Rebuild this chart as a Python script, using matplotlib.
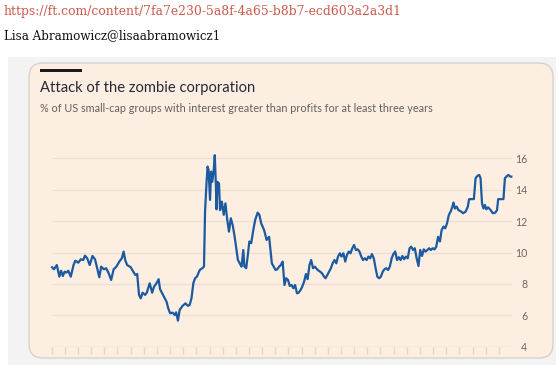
import matplotlib
matplotlib.use("Agg")
import matplotlib.pyplot as plt
from matplotlib.patches import FancyBboxPatch, Rectangle
from matplotlib.transforms import IdentityTransform
from matplotlib.ticker import FixedLocator

# ---- data (decimal year, % of US small caps that are "zombies") ----
years = [1986.03, 1986.17, 1986.39, 1986.58, 1986.71, 1986.85, 1986.98, 1987.12, 1987.26, 1987.45,
         1987.66, 1987.80, 1988.02, 1988.21, 1988.40, 1988.53, 1988.70, 1988.89, 1989.10, 1989.29,
         1989.43, 1989.62, 1989.76, 1989.97, 1990.14, 1990.33, 1990.52, 1990.71, 1990.92, 1991.14,
         1991.33, 1991.47, 1991.60, 1991.74, 1992.01, 1992.20, 1992.36, 1992.50, 1992.64, 1992.77,
         1992.91, 1993.10, 1993.23, 1993.45, 1993.64, 1993.78, 1993.97, 1994.13, 1994.24, 1994.46,
         1994.73, 1994.86, 1995.00, 1995.19, 1995.35, 1995.46, 1995.60, 1995.73, 1995.95, 1996.17,
         1996.36, 1996.49, 1996.63, 1996.77, 1996.90, 1997.04, 1997.26, 1997.45, 1997.58, 1997.66,
         1997.77, 1997.85, 1997.93, 1998.04, 1998.12, 1998.21, 1998.32, 1998.40, 1998.48, 1998.53,
         1998.61, 1998.72, 1998.80, 1998.94, 1999.08, 1999.21, 1999.35, 1999.48, 1999.62, 1999.76,
         1999.89, 2000.03, 2000.16, 2000.30, 2000.43, 2000.57, 2000.65, 2000.79, 2000.90, 2001.03,
         2001.17, 2001.33, 2001.47, 2001.66, 2001.79, 2001.93, 2002.15, 2002.34, 2002.53, 2002.61,
         2002.74, 2002.88, 2003.02, 2003.15, 2003.29, 2003.42, 2003.56, 2003.70, 2003.83, 2003.97,
         2004.10, 2004.24, 2004.38, 2004.51, 2004.65, 2004.78, 2004.92, 2005.05, 2005.19, 2005.33,
         2005.46, 2005.60, 2005.73, 2005.87, 2006.01, 2006.22, 2006.41, 2006.55, 2006.68, 2006.82,
         2006.96, 2007.09, 2007.23, 2007.36, 2007.50, 2007.64, 2007.77, 2007.91, 2008.04, 2008.18,
         2008.32, 2008.45, 2008.59, 2008.72, 2008.86, 2008.99, 2009.13, 2009.27, 2009.40, 2009.54,
         2009.67, 2009.81, 2009.95, 2010.08, 2010.22, 2010.35, 2010.49, 2010.63, 2010.76, 2010.90,
         2011.03, 2011.17, 2011.30, 2011.44, 2011.58, 2011.71, 2011.85, 2011.98, 2012.12, 2012.26,
         2012.39, 2012.53, 2012.66, 2012.80, 2012.93, 2013.07, 2013.21, 2013.34, 2013.48, 2013.61,
         2013.75, 2013.89, 2014.02, 2014.16, 2014.29, 2014.43, 2014.57, 2014.70, 2014.84, 2014.97,
         2015.11, 2015.24, 2015.38, 2015.52, 2015.65, 2015.79, 2015.92, 2016.06, 2016.20, 2016.33,
         2016.47, 2016.55, 2016.66, 2016.79, 2016.93, 2017.15, 2017.28, 2017.47, 2017.64, 2017.74,
         2017.91, 2018.10, 2018.23, 2018.37, 2018.51, 2018.61, 2018.72, 2018.83, 2018.94, 2019.05,
         2019.18, 2019.38, 2019.54, 2019.73, 2019.86, 2019.95, 2020.14, 2020.35, 2020.46, 2020.63,
         2020.73, 2020.87, 2020.95]
zombie_pct = [9.06, 8.93, 9.20, 8.46, 8.84, 8.50, 8.78, 8.72, 8.84, 8.46,
              9.20, 9.48, 9.35, 9.57, 9.52, 9.80, 9.63, 9.20, 9.78, 9.57,
              9.10, 8.42, 9.10, 8.93, 9.00, 8.68, 8.25, 8.93, 9.10, 9.42,
              9.63, 10.06, 9.48, 9.20, 9.06, 8.78, 8.57, 8.63, 7.30, 7.08,
              7.44, 7.30, 7.44, 8.04, 7.44, 7.82, 8.04, 8.30, 7.66, 7.30,
              6.87, 6.45, 6.13, 6.17, 6.02, 6.19, 5.66, 6.34, 6.60, 6.76,
              6.60, 6.66, 7.08, 8.04, 8.36, 8.46, 8.89, 9.00, 9.10, 12.60,
              14.40, 15.47, 15.26, 13.35, 15.15, 14.50, 15.26, 16.20, 14.40, 12.75,
              14.50, 14.40, 12.70, 13.24, 12.40, 13.13, 12.07, 11.33, 12.18, 11.75,
              11.12, 10.27, 9.52, 9.31, 9.10, 10.16, 9.10, 9.00, 9.74, 10.70,
              10.60, 11.43, 12.07, 12.54, 12.40, 11.86, 11.43, 10.80, 11.00, 10.37,
              9.31, 9.10, 8.89, 8.93, 9.10, 9.20, 9.42, 7.93, 8.36, 8.25,
              7.87, 7.93, 7.72, 7.93, 7.40, 7.44, 7.61, 7.82, 8.14, 8.63,
              8.30, 9.20, 9.52, 9.00, 9.10, 8.89, 8.78, 8.68, 8.50, 8.36,
              8.57, 8.78, 9.00, 9.31, 9.52, 9.31, 9.74, 9.95, 9.74, 9.95,
              9.42, 9.84, 10.06, 9.95, 10.27, 10.48, 10.16, 10.20, 10.06, 9.74,
              9.52, 9.63, 9.52, 9.74, 9.63, 9.90, 9.63, 9.00, 8.46, 8.36,
              8.46, 8.78, 8.93, 9.00, 8.89, 9.10, 9.63, 9.90, 10.06, 9.52,
              9.70, 9.52, 9.78, 9.57, 9.74, 9.63, 10.27, 10.37, 10.16, 10.27,
              9.63, 9.14, 10.16, 9.78, 10.20, 10.06, 10.16, 10.27, 10.16, 10.27,
              10.20, 10.37, 11.00, 10.70, 11.43, 11.65, 11.54, 11.86, 12.40, 12.60,
              12.92, 13.18, 12.80, 12.92, 12.70, 12.60, 12.50, 12.60, 12.92, 13.40,
              13.40, 13.40, 14.73, 14.88, 14.94, 14.73, 13.13, 12.80, 13.03, 12.75,
              12.88, 12.70, 12.50, 12.54, 12.70, 13.40, 13.40, 13.40, 14.73, 14.88,
              14.94, 14.83, 14.83]
y_ticks = [4, 6, 8, 10, 12, 14, 16]
tick_years = list(range(1986, 2021))
major_years = [1990, 2000, 2010, 2020]

title = "Attack of the zombie corporation"
subtitle = "% of US small-cap groups with interest greater than profits for at least three years"
url = "https://ft.com/content/7fa7e230-5a8f-4a65-b8b7-ecd603a2a3d1"
author = "Lisa Abramowicz@lisaabramowicz1"

W, H = 560, 384
fig = plt.figure(figsize=(W / 100, H / 100), dpi=100)
fig.patch.set_facecolor("white")


def fx(x):
    return x / W


def fy(y):
    return (H - y) / H


px = IdentityTransform()

# page header
fig.text(fx(4), fy(11), url, color="#cc5a4c", fontsize=8.9, family="DejaVu Serif",
         va="center", ha="left")
fig.text(fx(4), fy(36), author, color="#111111", fontsize=8.6, family="DejaVu Serif",
         va="center", ha="left")

# gray panel
fig.patches.append(Rectangle((8, H - 365), 548, 308, transform=px,
                             facecolor="#f3f3f3", edgecolor="none", zorder=0))
# rounded card
fig.patches.append(FancyBboxPatch((29, H - 358), 524, 295,
                                  boxstyle="round,pad=0,rounding_size=14",
                                  transform=px, facecolor="#fdeee2",
                                  edgecolor="#d8d2cc", linewidth=1.0, zorder=1))
# black bar
fig.patches.append(Rectangle((40, H - 72), 42, 3, transform=px,
                             facecolor="#1a1a1a", edgecolor="none", zorder=2))

fig.text(fx(40), fy(88), title, color="#262a33", fontsize=10.6, family="Lato",
         va="center", ha="left", zorder=3)
fig.text(fx(40), fy(109), subtitle, color="#66605c", fontsize=7.85, family="Lato",
         va="center", ha="left", zorder=3)

# axes
ax_left, ax_right = 51.7, 512.0
y4, y16 = 346.7, 158.3
ppu = (y4 - y16) / 12.0
ylo, yhi = 4.0, 16.4
ax_bottom = H - y4
ax_height = (yhi - ylo) * ppu
ax = fig.add_axes([ax_left / W, ax_bottom / H, (ax_right - ax_left) / W, ax_height / H])
ax.set_facecolor("none")
ax.set_zorder(5)
ax.set_xlim(1986.0, 2021.0)
ax.set_ylim(ylo, yhi)
for s in ax.spines.values():
    s.set_visible(False)

for v in y_ticks[1:]:
    ax.axhline(v, color="#ece0d5", linewidth=1.0, zorder=1)
ax.axhline(y_ticks[0], color="#e2d6cb", linewidth=1.0, zorder=1)

# year tick marks below the baseline
ax.set_xticks(tick_years)
ax.set_xticklabels([])
ax.tick_params(axis="x", length=5, color="#e2d6cb", width=1, direction="out")
ax.xaxis.set_minor_locator(FixedLocator(major_years))
ax.tick_params(axis="x", which="minor", length=7.5, color="#e2d6cb", width=1)

ax.yaxis.tick_right()
ax.set_yticks(y_ticks)
ax.set_yticklabels([str(v) for v in y_ticks])
ax.tick_params(axis="y", length=0, pad=11, labelsize=7.6, labelcolor="#6e6762")
for lab in ax.get_yticklabels():
    lab.set_horizontalalignment("right")
    lab.set_family("Lato")

ax.plot(years, zombie_pct, color="#1b59a0", linewidth=1.6, zorder=4,
        solid_joinstyle="round", clip_on=False)

fig.savefig("out.png", dpi=100, facecolor="white")
